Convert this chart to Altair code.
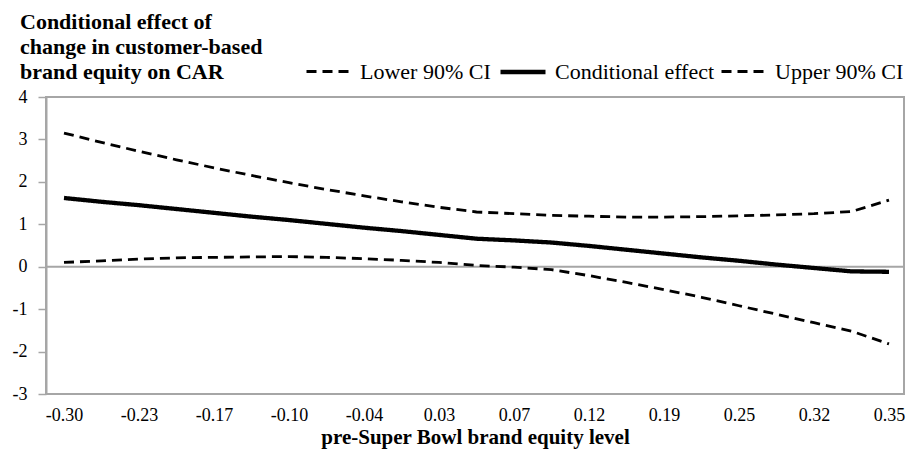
import altair as alt
import pandas as pd

# ---- data ----
x_labels = ["-0.30", "-0.23", "-0.17", "-0.10", "-0.04", "0.03",
            "0.07", "0.12", "0.19", "0.25", "0.32", "0.35"]
# 23 plotted points, tick labels on every other point
point_index = [0, 1, 2, 3, 4, 5, 6, 7, 8, 9, 10, 11,
               12, 13, 14, 15, 16, 17, 18, 19, 20, 21, 22]
lower_ci = [0.10, 0.14, 0.18, 0.21, 0.22, 0.23, 0.24, 0.22, 0.19, 0.15, 0.10, 0.03,
            -0.01, -0.07, -0.21, -0.37, -0.54, -0.72, -0.92, -1.12, -1.32, -1.52, -1.82]
effect = [1.62, 1.53, 1.45, 1.36, 1.27, 1.18, 1.10, 1.01, 0.92, 0.84, 0.75, 0.66,
          0.62, 0.57, 0.49, 0.40, 0.31, 0.22, 0.14, 0.05, -0.03, -0.11, -0.12]
upper_ci = [3.15, 2.93, 2.72, 2.52, 2.33, 2.15, 1.98, 1.82, 1.67, 1.53, 1.40, 1.29,
            1.25, 1.21, 1.19, 1.17, 1.17, 1.18, 1.20, 1.22, 1.25, 1.30, 1.57]
series_names = ["Lower 90% CI", "Conditional effect", "Upper 90% CI"]
y_ticks = [-3, -2, -1, 0, 1, 2, 3, 4]
title_lines = ["Conditional effect of", "change in customer-based", "brand equity on CAR"]

rows = []
for name, vals in zip(series_names, [lower_ci, effect, upper_ci]):
    for i, v in zip(point_index, vals):
        rows.append({"idx": i, "value": v, "series": name})
df = pd.DataFrame(rows)
zero_df = pd.DataFrame({"value": [0]})

label_expr = "[" + ",".join("'%s'" % s for s in x_labels) + "][round(datum.value / 2)]"
y_label_expr = "datum.value < 0 ? '-' + abs(datum.value) : '' + datum.value"

FONT = "Liberation Serif, Times New Roman, DejaVu Serif, serif"
GRAY = "#a6a6a6"

x_scale = alt.Scale(domain=[-0.48, 22.4], nice=False, zero=False)
y_scale = alt.Scale(domain=[-3, 4], nice=False, zero=False)

legend = alt.Legend(
    title=None, orient="none", direction="horizontal", legendX=259, legendY=-50,
    labelFont=FONT, labelFontSize=22, labelColor="black", labelLimit=400,
    symbolType="stroke", symbolSize=2025, symbolStrokeColor="black",
    labelOffset=7, columnPadding=0,
)

zero_rule = alt.Chart(zero_df).mark_rule(color=GRAY, strokeWidth=2).encode(
    y=alt.Y("value:Q", scale=y_scale)
)

lines = alt.Chart(df).mark_line(color="black", strokeCap="butt").encode(
    x=alt.X("idx:Q", scale=x_scale,
            axis=alt.Axis(values=point_index[::2], labelExpr=label_expr,
                          title="pre-Super Bowl brand equity level",
                          domain=False, ticks=False, grid=False,
                          labelFont=FONT, labelFontSize=18, labelColor="black",
                          labelPadding=12, titleFont=FONT, titleFontSize=21,
                          titleFontWeight="bold", titleColor="black", titlePadding=2)),
    y=alt.Y("value:Q", scale=y_scale,
            axis=alt.Axis(values=y_ticks, labelExpr=y_label_expr, title=None, grid=False,
                          domainColor=GRAY, domainWidth=2, tickColor=GRAY,
                          tickWidth=1.5, tickSize=8, labelPadding=11,
                          labelFont=FONT, labelFontSize=18, labelColor="black")),
    strokeDash=alt.StrokeDash("series:N",
                              scale=alt.Scale(type="ordinal", domain=series_names,
                                              range=[[10, 6], [1, 0], [10, 6]]),
                              legend=legend),
    strokeWidth=alt.StrokeWidth("series:N",
                                scale=alt.Scale(type="ordinal", domain=series_names,
                                                range=[2.8, 4.3, 2.8]),
                                legend=legend),
)

chart = alt.layer(zero_rule, lines).properties(
    width=858, height=297,
    title=alt.TitleParams(text=title_lines, anchor="start", frame="group",
                          font=FONT, fontSize=22, fontWeight="bold", color="black",
                          lineHeight=25, dx=-26, dy=51, offset=14),
    autosize=alt.AutoSizeParams(type="none"),
    padding={"left": 38, "top": 89, "right": 2, "bottom": 57},
).configure_view(stroke=GRAY, strokeWidth=2)

chart.save("out.html", embed_options={"renderer": "svg", "actions": False})
